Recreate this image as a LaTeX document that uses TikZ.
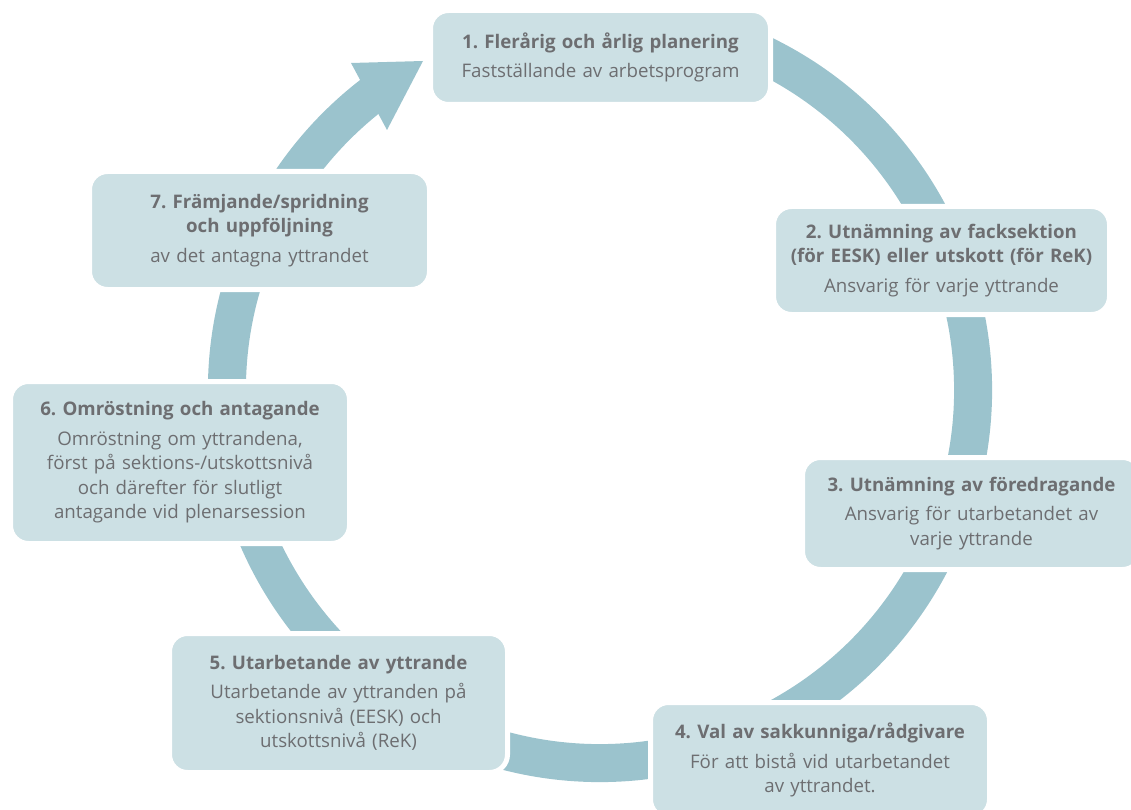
\documentclass[tikz,border=0pt]{standalone}
\usepackage{fontspec}
\setmainfont{Open Sans}
\usepackage{tikz}

\definecolor{boxfill}{HTML}{CCE0E4}
\definecolor{ringcol}{HTML}{9BC3CD}
\definecolor{txtgray}{HTML}{6D6E71}

\begin{document}
\frenchspacing
\begin{tikzpicture}[x=1pt, y=1pt,
  stage/.style={rectangle, rounded corners=18pt, fill=boxfill, draw=white, line width=5pt,
    inner sep=0pt, align=center, text=txtgray, text width=325pt,
    font=\fontsize{18.7}{24.5}\selectfont},
  ring/.style={draw=ringcol, line width=38pt}]
	\useasboundingbox (0,0) rectangle (1131,-810);
	\clip (0,0) rectangle (1131,-810);
	% the cycle
	\draw [ring] ([shift={(600,-390)}]65:373pt) arc [start angle=65, end angle=-232.5, radius=373pt];
	\fill [ringcol] (351,-63) -- (423,-61) -- (387,-130) -- cycle;
	% stages
	\node [stage, minimum width=340pt, minimum height=94pt] (box1) at (600.5,-57.5)
		{\textbf{1. Flerårig och årlig planering}\\[5pt]Fastställande av arbetsprogram};
	\node [stage, minimum width=336pt, minimum height=108pt] (box2) at (941.5,-260.5)
		{\textbf{2. Utnämning av facksektion}\\\textbf{(för EESK) eller utskott (för ReK)}\\[5pt]Ansvarig för varje yttrande};
	\node [stage, minimum width=338pt, minimum height=112pt] (box3) at (971.5,-513.5)
		{\textbf{3. Utnämning av föredragande}\\[5pt]Ansvarig för utarbetandet av\\varje yttrande};
	\node [stage, minimum width=339pt, minimum height=115pt] (box4) at (820,-760)
		{\textbf{4. Val av sakkunniga/rådgivare}\\[5pt]För att bistå vid utarbetandet\\av yttrandet.};
	\node [stage, minimum width=338pt, minimum height=139pt] (box5) at (338.5,-703)
		{\textbf{5. Utarbetande av yttrande}\\[5pt]Utarbetande av yttranden på\\sektionsnivå (EESK) och\\utskottsnivå (ReK)};
	\node [stage, minimum width=339pt, minimum height=162pt] (box6) at (180,-462.5)
		{\textbf{6. Omröstning och antagande}\\[5pt]Omröstning om yttrandena,\\först på sektions-/utskottsnivå\\och därefter för slutligt\\antagande vid plenarsession};
	\node [stage, minimum width=340pt, minimum height=118pt] (box7) at (259.5,-230.5)
		{\textbf{7. Främjande/spridning}\\\textbf{och uppföljning}\\[5pt]av det antagna yttrandet};
\end{tikzpicture}
\end{document}
